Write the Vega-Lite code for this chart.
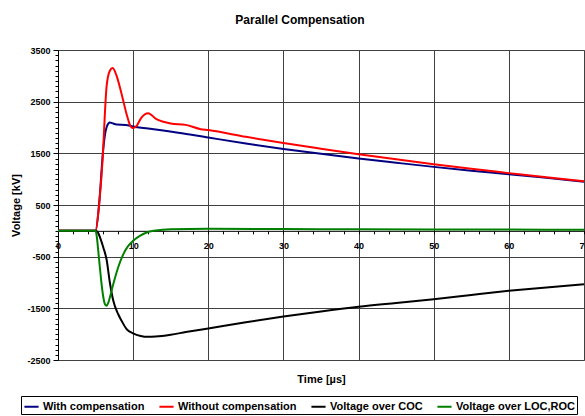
{
  "$schema": "https://vega.github.io/schema/vega-lite/v6.json",
  "width": 526,
  "height": 310,
  "autosize": {"type": "none"},
  "padding": {"left": 58, "top": 50, "right": 1, "bottom": 56},
  "background": "white",
  "config": {"view": {"stroke": "#808080", "strokeWidth": 1}, "font": "Liberation Sans"},
  "title": {"text": "Parallel Compensation", "font": "Liberation Sans", "fontSize": 12, "fontWeight": "bold", "color": "black", "anchor": "middle", "dx": -21, "offset": 19},
  "data": {"values": [
    {"s": "With compensation", "t": 0, "v": 0}, {"s": "With compensation", "t": 5, "v": 0}, {"s": "With compensation", "t": 5.45, "v": 480}, {"s": "With compensation", "t": 6, "v": 1550}, {"s": "With compensation", "t": 6.3, "v": 1900}, {"s": "With compensation", "t": 6.5, "v": 2020}, {"s": "With compensation", "t": 6.7, "v": 2075}, {"s": "With compensation", "t": 6.9, "v": 2096}, {"s": "With compensation", "t": 7.2, "v": 2085}, {"s": "With compensation", "t": 7.8, "v": 2058}, {"s": "With compensation", "t": 9, "v": 2050}, {"s": "With compensation", "t": 10, "v": 2020}, {"s": "With compensation", "t": 12, "v": 1980}, {"s": "With compensation", "t": 14, "v": 1940}, {"s": "With compensation", "t": 16, "v": 1900}, {"s": "With compensation", "t": 20, "v": 1806}, {"s": "With compensation", "t": 25, "v": 1690}, {"s": "With compensation", "t": 30, "v": 1585}, {"s": "With compensation", "t": 35, "v": 1490}, {"s": "With compensation", "t": 40, "v": 1400}, {"s": "With compensation", "t": 45, "v": 1318}, {"s": "With compensation", "t": 50, "v": 1238}, {"s": "With compensation", "t": 55, "v": 1165}, {"s": "With compensation", "t": 60, "v": 1097}, {"s": "With compensation", "t": 65, "v": 1025}, {"s": "With compensation", "t": 70, "v": 950},
    {"s": "Without compensation", "t": 0, "v": 0}, {"s": "Without compensation", "t": 5, "v": 0}, {"s": "Without compensation", "t": 5.45, "v": 480}, {"s": "Without compensation", "t": 6, "v": 1550}, {"s": "Without compensation", "t": 6.25, "v": 2300}, {"s": "Without compensation", "t": 6.47, "v": 2800}, {"s": "Without compensation", "t": 6.9, "v": 3097}, {"s": "Without compensation", "t": 7.27, "v": 3150}, {"s": "Without compensation", "t": 7.8, "v": 3000}, {"s": "Without compensation", "t": 8.47, "v": 2645}, {"s": "Without compensation", "t": 9.13, "v": 2258}, {"s": "Without compensation", "t": 9.57, "v": 2051}, {"s": "Without compensation", "t": 9.93, "v": 1988}, {"s": "Without compensation", "t": 10.46, "v": 2032}, {"s": "Without compensation", "t": 11.1, "v": 2193}, {"s": "Without compensation", "t": 12, "v": 2278}, {"s": "Without compensation", "t": 13.1, "v": 2161}, {"s": "Without compensation", "t": 14, "v": 2110}, {"s": "Without compensation", "t": 15, "v": 2077}, {"s": "Without compensation", "t": 17, "v": 2051}, {"s": "Without compensation", "t": 19, "v": 1968}, {"s": "Without compensation", "t": 20, "v": 1950}, {"s": "Without compensation", "t": 25, "v": 1820}, {"s": "Without compensation", "t": 30, "v": 1700}, {"s": "Without compensation", "t": 35, "v": 1590}, {"s": "Without compensation", "t": 40, "v": 1484}, {"s": "Without compensation", "t": 45, "v": 1385}, {"s": "Without compensation", "t": 50, "v": 1290}, {"s": "Without compensation", "t": 55, "v": 1200}, {"s": "Without compensation", "t": 60, "v": 1117}, {"s": "Without compensation", "t": 65, "v": 1035}, {"s": "Without compensation", "t": 70, "v": 960},
    {"s": "Voltage over COC", "t": 0, "v": 0}, {"s": "Voltage over COC", "t": 5, "v": 0}, {"s": "Voltage over COC", "t": 5.3, "v": -30}, {"s": "Voltage over COC", "t": 5.6, "v": -130}, {"s": "Voltage over COC", "t": 6.03, "v": -322}, {"s": "Voltage over COC", "t": 6.47, "v": -560}, {"s": "Voltage over COC", "t": 6.9, "v": -1000}, {"s": "Voltage over COC", "t": 7.36, "v": -1355}, {"s": "Voltage over COC", "t": 8, "v": -1610}, {"s": "Voltage over COC", "t": 8.47, "v": -1742}, {"s": "Voltage over COC", "t": 9.13, "v": -1903}, {"s": "Voltage over COC", "t": 10, "v": -1985}, {"s": "Voltage over COC", "t": 11, "v": -2035}, {"s": "Voltage over COC", "t": 12, "v": -2052}, {"s": "Voltage over COC", "t": 13, "v": -2045}, {"s": "Voltage over COC", "t": 15, "v": -2010}, {"s": "Voltage over COC", "t": 17, "v": -1960}, {"s": "Voltage over COC", "t": 20, "v": -1890}, {"s": "Voltage over COC", "t": 25, "v": -1770}, {"s": "Voltage over COC", "t": 30, "v": -1660}, {"s": "Voltage over COC", "t": 35, "v": -1560}, {"s": "Voltage over COC", "t": 40, "v": -1470}, {"s": "Voltage over COC", "t": 45, "v": -1395}, {"s": "Voltage over COC", "t": 50, "v": -1322}, {"s": "Voltage over COC", "t": 55, "v": -1240}, {"s": "Voltage over COC", "t": 60, "v": -1161}, {"s": "Voltage over COC", "t": 65, "v": -1095}, {"s": "Voltage over COC", "t": 70, "v": -1032},
    {"s": "Voltage over LOC,ROC", "t": 0, "v": 0}, {"s": "Voltage over LOC,ROC", "t": 5, "v": 0}, {"s": "Voltage over LOC,ROC", "t": 5.15, "v": -100}, {"s": "Voltage over LOC,ROC", "t": 5.36, "v": -390}, {"s": "Voltage over LOC,ROC", "t": 5.6, "v": -750}, {"s": "Voltage over LOC,ROC", "t": 5.8, "v": -1030}, {"s": "Voltage over LOC,ROC", "t": 6.05, "v": -1300}, {"s": "Voltage over LOC,ROC", "t": 6.25, "v": -1420}, {"s": "Voltage over LOC,ROC", "t": 6.47, "v": -1450}, {"s": "Voltage over LOC,ROC", "t": 6.7, "v": -1390}, {"s": "Voltage over LOC,ROC", "t": 6.9, "v": -1290}, {"s": "Voltage over LOC,ROC", "t": 7.36, "v": -1030}, {"s": "Voltage over LOC,ROC", "t": 8, "v": -710}, {"s": "Voltage over LOC,ROC", "t": 8.7, "v": -450}, {"s": "Voltage over LOC,ROC", "t": 9.3, "v": -300}, {"s": "Voltage over LOC,ROC", "t": 10, "v": -194}, {"s": "Voltage over LOC,ROC", "t": 11, "v": -90}, {"s": "Voltage over LOC,ROC", "t": 11.8, "v": -32}, {"s": "Voltage over LOC,ROC", "t": 13, "v": 5}, {"s": "Voltage over LOC,ROC", "t": 15, "v": 30}, {"s": "Voltage over LOC,ROC", "t": 20, "v": 40}, {"s": "Voltage over LOC,ROC", "t": 30, "v": 35}, {"s": "Voltage over LOC,ROC", "t": 40, "v": 30}, {"s": "Voltage over LOC,ROC", "t": 50, "v": 28}, {"s": "Voltage over LOC,ROC", "t": 60, "v": 25}, {"s": "Voltage over LOC,ROC", "t": 70, "v": 20}
  ]},
  "resolve": {"axis": {"x": "independent", "y": "independent"}},
  "encoding": {
    "color": {
      "field": "s", "type": "nominal",
      "scale": {"domain": ["With compensation", "Without compensation", "Voltage over COC", "Voltage over LOC,ROC"], "range": ["#000080", "#ff0000", "#000000", "#008000"]},
      "legend": {"orient": "none", "legendX": -37, "legendY": 346, "direction": "horizontal", "title": null, "strokeColor": "black", "fillColor": "white", "padding": 2, "symbolType": "stroke", "symbolSize": 200, "symbolStrokeWidth": 2, "labelFont": "Liberation Sans", "labelFontSize": 11, "labelFontWeight": "bold", "labelColor": "black", "columnPadding": 10, "labelOffset": 3, "labelLimit": 300}
    }
  },
  "layer": [
    {
      "transform": [{"filter": "datum.s === 'With compensation'"}],
      "mark": {"type": "line", "strokeWidth": 2, "interpolate": "monotone"},
      "encoding": {
        "x": {"field": "t", "type": "quantitative", "scale": {"domain": [0, 70], "nice": false, "zero": false},
          "axis": {"orient": "bottom", "offset": -129.17, "values": [0, 10, 20, 30, 40, 50, 60, 70], "title": "Time [µs]", "titleFont": "Liberation Sans", "titleFontSize": 11, "titleFontWeight": "bold", "titleColor": "black", "titleY": 149, "titleBaseline": "middle", "labelFont": "Liberation Sans", "labelFontSize": 9, "labelFontWeight": "bold", "labelColor": "black", "labelPadding": 8, "labelFlush": false, "labelBound": false, "labelOverlap": false, "tickSize": 3, "tickColor": "black", "domainColor": "black", "grid": true, "gridColor": "#404040", "gridWidth": 1}},
        "y": {"field": "v", "type": "quantitative", "scale": {"domain": [-2500, 3500], "nice": false, "zero": false},
          "axis": {"orient": "left", "values": [-2500, -1500, -500, 500, 1500, 2500, 3500], "labelExpr": "'' + datum.value", "title": "Voltage [kV]", "titleFont": "Liberation Sans", "titleFontSize": 11, "titleFontWeight": "bold", "titleColor": "black", "titlePadding": 5, "labelFont": "Liberation Sans", "labelFontSize": 9, "labelFontWeight": "bold", "labelColor": "black", "labelPadding": 3, "tickSize": 5, "tickColor": "black", "domainColor": "black", "grid": true, "gridColor": "#404040", "gridWidth": 1, "labelOverlap": false}}
      }
    },
    {
      "transform": [{"filter": "datum.s === 'Without compensation'"}],
      "mark": {"type": "line", "strokeWidth": 2, "interpolate": "monotone"},
      "encoding": {
        "x": {"field": "t", "type": "quantitative",
          "axis": {"orient": "bottom", "offset": -129.17, "values": [2, 4, 6, 8, 12, 14, 16, 18, 22, 24, 26, 28, 32, 34, 36, 38, 42, 44, 46, 48, 52, 54, 56, 58, 62, 64, 66, 68], "labels": false, "domain": false, "grid": false, "tickSize": 3, "tickColor": "black", "title": null}},
        "y": {"field": "v", "type": "quantitative",
          "axis": {"orient": "left", "values": [-2400, -2300, -2200, -2100, -2000, -1900, -1800, -1700, -1600, -1400, -1300, -1200, -1100, -1000, -900, -800, -700, -600, -400, -300, -200, -100, 0, 100, 200, 300, 400, 600, 700, 800, 900, 1000, 1100, 1200, 1300, 1400, 1600, 1700, 1800, 1900, 2000, 2100, 2200, 2300, 2400, 2600, 2700, 2800, 2900, 3000, 3100, 3200, 3300, 3400], "labels": false, "domain": false, "grid": false, "tickSize": 3, "tickColor": "black", "title": null}}
      }
    },
    {
      "transform": [{"filter": "datum.s === 'Voltage over COC'"}],
      "mark": {"type": "line", "strokeWidth": 2, "interpolate": "monotone"},
      "encoding": {
        "x": {"field": "t", "type": "quantitative", "axis": null},
        "y": {"field": "v", "type": "quantitative", "axis": null}
      }
    },
    {
      "transform": [{"filter": "datum.s === 'Voltage over LOC,ROC'"}],
      "mark": {"type": "line", "strokeWidth": 2, "interpolate": "monotone"},
      "encoding": {
        "x": {"field": "t", "type": "quantitative", "axis": null},
        "y": {"field": "v", "type": "quantitative", "axis": null}
      }
    }
  ]
}
